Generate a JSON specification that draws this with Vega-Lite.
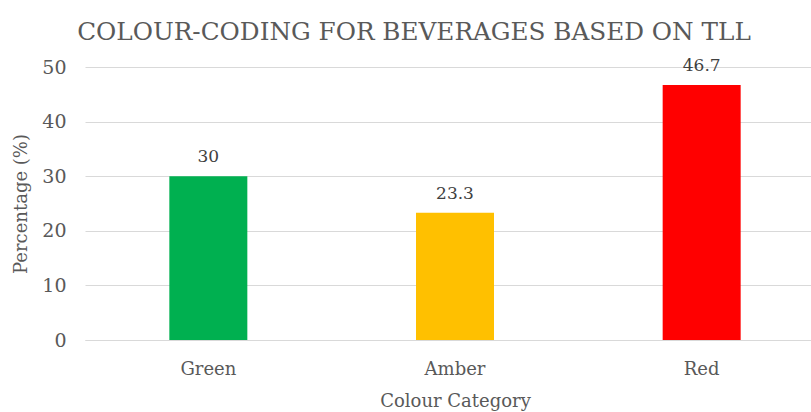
{
  "$schema": "https://vega.github.io/schema/vega-lite/v6.json",
  "autosize": {"type": "none"},
  "padding": {"left": 85, "top": 67, "right": 0, "bottom": 72},
  "width": 740,
  "height": 273,
  "background": "white",
  "title": {
    "text": "COLOUR-CODING FOR BEVERAGES BASED ON TLL",
    "font": "DejaVu Serif",
    "fontSize": 24.7,
    "fontWeight": "normal",
    "color": "#595959",
    "anchor": "middle",
    "dx": -41,
    "offset": 12
  },
  "data": {
    "values": [
      {"category": "Green", "percentage": 30, "label": "30"},
      {"category": "Amber", "percentage": 23.3, "label": "23.3"},
      {"category": "Red", "percentage": 46.7, "label": "46.7"}
    ]
  },
  "encoding": {
    "x": {
      "field": "category",
      "type": "nominal",
      "sort": ["Green", "Amber", "Red"],
      "scale": {"paddingInner": 0, "paddingOuter": 0},
      "axis": {
        "title": "Colour Category",
        "labelAngle": 0,
        "labelFont": "DejaVu Serif",
        "labelFontSize": 18,
        "labelColor": "#595959",
        "labelPadding": 20,
        "titleFont": "DejaVu Serif",
        "titleFontSize": 18,
        "titleFontWeight": "normal",
        "titleColor": "#595959",
        "titlePadding": 14,
        "ticks": false,
        "domainColor": "#d9d9d9",
        "domainWidth": 1
      }
    },
    "y": {
      "field": "percentage",
      "type": "quantitative",
      "scale": {"domain": [0, 50]},
      "axis": {
        "title": "Percentage (%)",
        "values": [0, 10, 20, 30, 40, 50],
        "labelFont": "DejaVu Serif",
        "labelFontSize": 19,
        "labelColor": "#595959",
        "labelPadding": 19,
        "titleFont": "DejaVu Serif",
        "titleFontSize": 18,
        "titleFontWeight": "normal",
        "titleColor": "#595959",
        "titlePadding": 11,
        "ticks": false,
        "domain": false,
        "gridColor": "#d9d9d9",
        "gridWidth": 1
      }
    }
  },
  "layer": [
    {
      "mark": {"type": "bar", "size": 78},
      "encoding": {
        "color": {
          "field": "category",
          "type": "nominal",
          "scale": {"domain": ["Green", "Amber", "Red"], "range": ["#00B050", "#FFC000", "#FF0000"]},
          "legend": null
        }
      }
    },
    {
      "mark": {"type": "text", "dy": -10, "font": "DejaVu Serif", "fontSize": 17, "color": "#404040", "baseline": "bottom"},
      "encoding": {"text": {"field": "label"}}
    }
  ],
  "config": {"view": {"stroke": null}}
}
